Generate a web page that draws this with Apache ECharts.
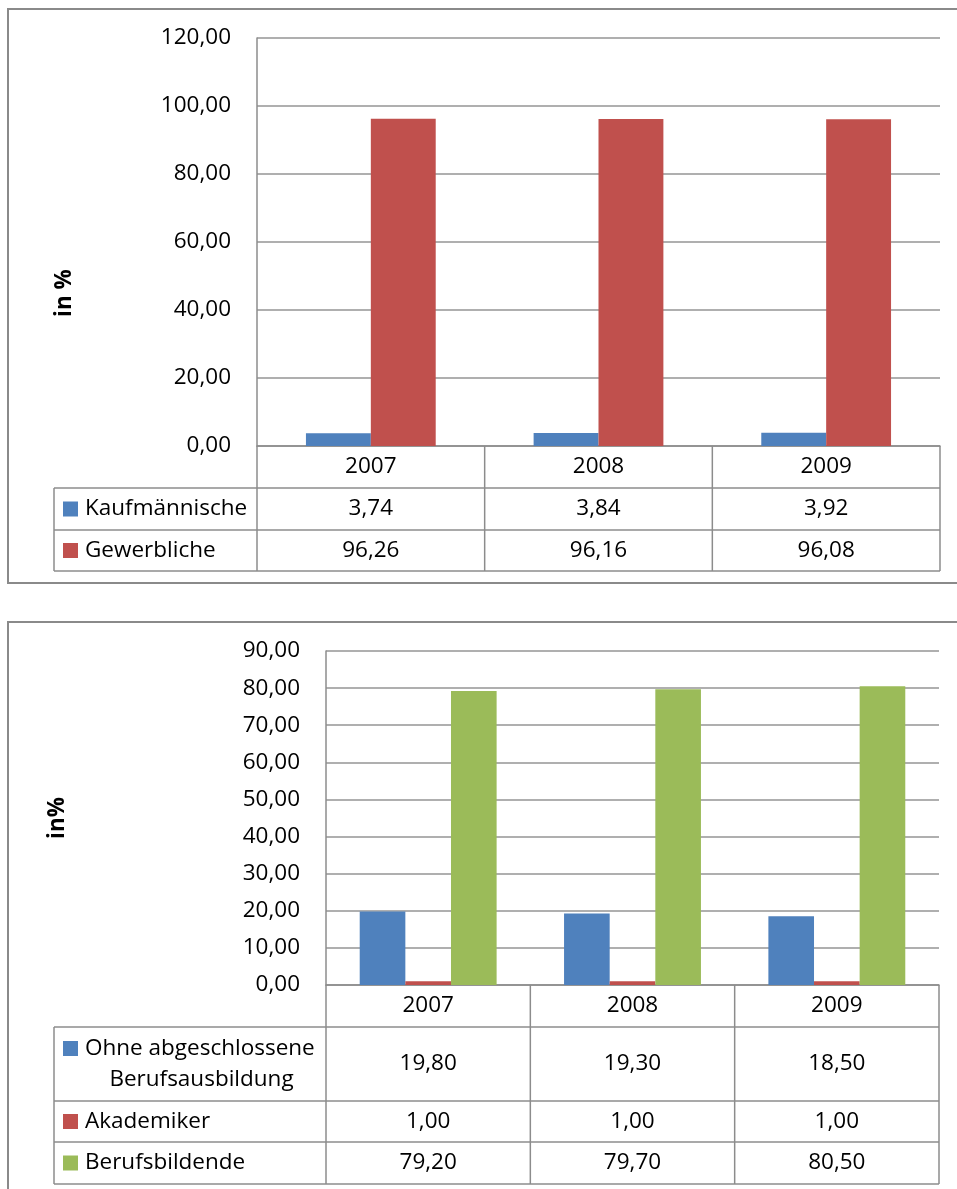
<!DOCTYPE html>
<html>
<head>
<meta charset="utf-8">
<script src="https://cdn.jsdelivr.net/npm/echarts@6/dist/echarts.min.js"></script>
<style>
  html, body { margin: 0; padding: 0; background: #fff; }
  #chart { width: 957px; height: 1189px; }
</style>
</head>
<body>
<div id="chart"></div>
<script>
// Years shown in both charts
const years = ['2007', '2008', '2009'];

// Chart 1: share of commercial vs. trade apprentices
const kaufmaennische = [3.74, 3.84, 3.92];
const gewerbliche = [96.26, 96.16, 96.08];

// Chart 2: qualification levels
const ohneAusbildung = [19.80, 19.30, 18.50];
const akademiker = [1.00, 1.00, 1.00];
const berufsbildende = [79.20, 79.70, 80.50];

const FONT = '"Open Sans", "Noto Sans", sans-serif';
const FS = 22.5;
const GRID_LINE = '#959595';
const TABLE_LINE = '#8c8c8c';
const BLUE = '#4F81BD', RED = '#C0504D', GREEN = '#9BBB59';

const fmt = v => v.toFixed(2).replace('.', ',');

// Layout of the two panels (plot area + data table underneath)
const panels = [
  {
    left: 257, top: 38, right: 940, bottom: 446,
    tableLeft: 54, rows: [446, 488, 530, 571],
    frame: { x: 8, y: 9, h: 574 },
    title: { text: 'in %', x: 65, y: 293 },
    series: [
      { name: 'Kaufmännische', lines: ['Kaufmännische'], data: kaufmaennische, color: BLUE },
      { name: 'Gewerbliche', lines: ['Gewerbliche'], data: gewerbliche, color: RED }
    ],
    max: 120, interval: 20, catGap: '43%'
  },
  {
    left: 326, top: 651, right: 939, bottom: 985,
    tableLeft: 54, rows: [985, 1027, 1101, 1142, 1184],
    frame: { x: 8, y: 622, h: 700 },
    title: { text: 'in%', x: 58, y: 818 },
    series: [
      { name: 'Ohne abgeschlossene Berufsausbildung', lines: ['Ohne abgeschlossene', 'Berufsausbildung'], data: ohneAusbildung, color: BLUE },
      { name: 'Akademiker', lines: ['Akademiker'], data: akademiker, color: RED },
      { name: 'Berufsbildende', lines: ['Berufsbildende'], data: berufsbildende, color: GREEN }
    ],
    max: 90, interval: 10, catGap: '33%'
  }
];

const W = 957, H = 1189;
const grids = [], xAxes = [], yAxes = [], seriesList = [], graphics = [];

function line(x1, y1, x2, y2, color, w) {
  graphics.push({
    type: 'line', silent: true, z: 10,
    shape: { x1, y1, x2, y2 },
    style: { stroke: color, lineWidth: w || 1.5 }
  });
}
function text(str, x, y, align, opts) {
  opts = opts || {};
  graphics.push({
    type: 'text', silent: true, z: 20,
    x, y, rotation: opts.rotation || 0,
    style: {
      text: str, x: 0, y: 0,
      fill: '#000',
      fontSize: opts.size || FS,
      fontFamily: FONT,
      fontWeight: opts.weight || 'normal',
      textAlign: align, textVerticalAlign: 'middle',
      align: align, verticalAlign: 'middle'
    }
  });
}

panels.forEach((p, i) => {
  grids.push({ left: p.left, top: p.top, width: p.right - p.left, height: p.bottom - p.top, containLabel: false });
  xAxes.push({
    type: 'category', gridIndex: i, data: years,
    axisLine: { show: true, lineStyle: { color: TABLE_LINE, width: 1.5 } },
    axisTick: { show: false },
    axisLabel: { color: '#000', fontSize: FS, fontFamily: FONT, margin: (p.rows[1] - p.rows[0]) / 2, verticalAlign: 'middle' },
    splitLine: { show: false }
  });
  yAxes.push({
    type: 'value', gridIndex: i, min: 0, max: p.max, interval: p.interval,
    axisLine: { show: true, lineStyle: { color: TABLE_LINE, width: 1.5 } },
    axisTick: { show: false },
    axisLabel: { color: '#000', fontSize: FS, fontFamily: FONT, margin: 26, formatter: fmt },
    splitLine: { show: true, lineStyle: { color: GRID_LINE, width: 1.6 } }
  });
  p.series.forEach(s => {
    seriesList.push({
      type: 'bar', name: s.name, xAxisIndex: i, yAxisIndex: i,
      data: s.data, barGap: '0%', barCategoryGap: p.catGap,
      itemStyle: { color: s.color }, z: 2
    });
  });

  // outer frame (open to the right / bottom edge of the page)
  graphics.push({
    type: 'rect', silent: true, z: 0,
    shape: { x: p.frame.x, y: p.frame.y, width: 1200, height: p.frame.h },
    style: { fill: 'none', stroke: '#8a8a8a', lineWidth: 2 }
  });

  // rotated axis title
  text(p.title.text, p.title.x, p.title.y, 'center', { weight: 'bold', rotation: Math.PI / 2 });

  // data table grid
  const n = years.length;
  const colW = (p.right - p.left) / n;
  const rows = p.rows;
  const last = rows[rows.length - 1];
  for (let c = 0; c <= n; c++) {
    const x = p.left + c * colW;
    line(x, rows[0], x, last, TABLE_LINE);
  }
  line(p.tableLeft, rows[1], p.tableLeft, last, TABLE_LINE);
  for (let r = 1; r < rows.length; r++) {
    line(p.tableLeft, rows[r], p.right, rows[r], TABLE_LINE);
  }

  // table rows: legend key, series name, values
  p.series.forEach((s, k) => {
    const y0 = rows[k + 1], y1 = rows[k + 2];
    const cy = (y0 + y1) / 2;
    const lineH = 31;
    const firstY = cy - (s.lines.length - 1) * lineH / 2;
    graphics.push({
      type: 'rect', silent: true, z: 20,
      shape: { x: p.tableLeft + 9, y: firstY - 7.5, width: 15, height: 15 },
      style: { fill: s.color }
    });
    if (s.lines.length === 1) {
      text(s.lines[0], p.tableLeft + 31, firstY, 'left');
    } else {
      const mid = p.tableLeft + 31 + 116.5;
      text(s.lines[0], p.tableLeft + 31, firstY, 'left');
      for (let l = 1; l < s.lines.length; l++) {
        text(s.lines[l], mid, firstY + l * lineH, 'center');
      }
    }
    s.data.forEach((v, c) => {
      text(fmt(v), p.left + (c + 0.5) * colW, cy, 'center');
    });
  });
});

const chart = echarts.init(document.getElementById('chart'), null, { renderer: 'canvas', width: W, height: H });
chart.setOption({
  animation: false,
  backgroundColor: '#fff',
  textStyle: { fontFamily: FONT },
  grid: grids,
  xAxis: xAxes,
  yAxis: yAxes,
  series: seriesList,
  graphic: { elements: graphics }
});
</script>
</body>
</html>
